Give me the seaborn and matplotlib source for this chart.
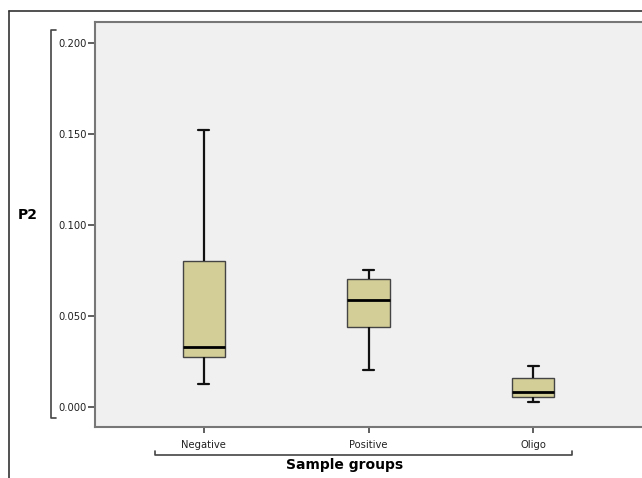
import matplotlib
matplotlib.use("Agg")
import matplotlib.pyplot as plt
from matplotlib.lines import Line2D
import seaborn as sns
import pandas as pd

# five-number summaries (min, Q1, median, Q3, max)
groups = ["Negative", "Positive", "Oligo"]
negative = [0.0126, 0.0275, 0.0330, 0.0802, 0.1520]
positive = [0.0203, 0.0440, 0.0588, 0.0703, 0.0753]
oligo = [0.0027, 0.0055, 0.0082, 0.0159, 0.0225]
yticks = [0.000, 0.050, 0.100, 0.150, 0.200]

df = pd.DataFrame({
    "group": [g for g, v in zip(groups, [negative, positive, oligo]) for _ in v],
    "P2": negative + positive + oligo,
})

sns.set_style("white")
plt.rcParams["font.family"] = ["DejaVu Sans"]

fig = plt.figure(figsize=(6.42, 4.78), dpi=100)
ax = fig.add_axes([95 / 642, 51 / 478, 547 / 642, 405 / 478])
ax.set_facecolor("#f0f0f0")

sns.boxplot(data=df, x="group", y="P2", order=groups, ax=ax,
            whis=(0, 100), width=0.255, color="#d3ce97",
            linecolor="#444444", linewidth=1.0,
            saturation=1,
            medianprops=dict(color="black", linewidth=2.0),
            whiskerprops=dict(color="#111111", linewidth=1.6),
            capprops=dict(color="#111111", linewidth=1.6),
            capwidths=0.065)

ax.set_xlim(-0.66, 2.66)
ax.set_ylim(-0.011, 0.2115)
ax.set_yticks(yticks)
ax.set_yticklabels(["%.3f" % t for t in yticks], fontsize=7.2, color="#222222")
ax.tick_params(axis="y", direction="out", length=5, width=1.2, color="#444444", pad=1, left=True)
ax.tick_params(axis="x", direction="out", length=4, width=1.2, color="#444444", pad=5, bottom=True, labelsize=7.2, labelcolor="#222222")
ax.set_xlabel("")
ax.set_ylabel("")

for s in ["left", "top", "bottom"]:
    ax.spines[s].set_color("#777777")
    ax.spines[s].set_linewidth(1.5)
ax.spines["right"].set_visible(False)

# outer frame
lc = "#333333"
fig.add_artist(Line2D([9 / 642, 9 / 642], [0, 1 - 11 / 478], color=lc, lw=1.2))
fig.add_artist(Line2D([9 / 642, 1], [1 - 11 / 478, 1 - 11 / 478], color=lc, lw=1.2))

# y bracket
bx, yt, yb = 51 / 642, 1 - 30 / 478, 1 - 418 / 478
hook = 5 / 642
fig.add_artist(Line2D([bx + hook, bx, bx, bx + hook], [yt, yt, yb, yb], color="#444444", lw=1.2))

# x bracket
by = 1 - 455 / 478
vh = 4 / 478
fig.add_artist(Line2D([155 / 642, 155 / 642, 572 / 642, 572 / 642], [by + vh, by, by, by + vh], color="#444444", lw=1.2))

fig.text(28 / 642, 1 - 215 / 478, "P2", fontsize=10, fontweight="bold", ha="center", va="center", color="black")
fig.text(345 / 642, 1 - 465 / 478, "Sample groups", fontsize=10, fontweight="bold", ha="center", va="center", color="black")

fig.savefig("out.png", dpi=100, facecolor="white")
